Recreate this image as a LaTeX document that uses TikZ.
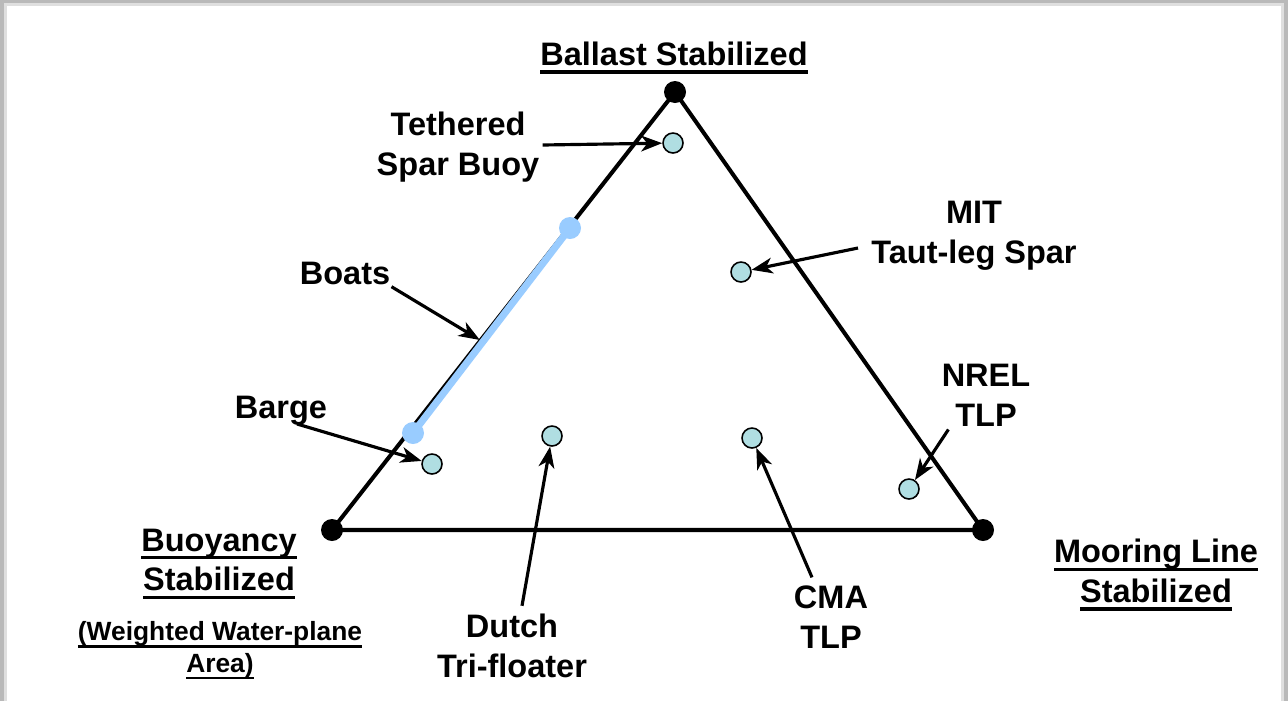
\documentclass[tikz,border=0pt]{standalone}
\usepackage{fontspec}
\setmainfont{Liberation Sans}
\usetikzlibrary{arrows.meta,calc}

\definecolor{samplefill}{RGB}{176,222,226}
\definecolor{boatblue}{RGB}{153,204,255}
\newcommand{\ulin}[1]{\setbox0\hbox{#1}\rlap{\smash{\rule[-0.25em]{\wd0}{0.1em}}}\box0}

\tikzset{
  edge/.style={line width=2.3pt},
  corner/.style={circle, fill=black, inner sep=0pt, minimum size=0.44cm},
  sample/.style={circle, draw=black, line width=0.9pt, fill=samplefill, inner sep=0pt, minimum size=0.4cm},
  boatend/.style={circle, fill=boatblue, inner sep=0pt, minimum size=0.44cm},
  lbl/.style={font=\fontsize{18.5}{22.7}\selectfont\bfseries, align=center, inner sep=0pt},
  smalllbl/.style={font=\fontsize{15}{18.1}\selectfont\bfseries, align=center, inner sep=0pt},
  pointer/.style={-{Stealth[length=12pt,width=9pt,inset=3.5pt]}, line width=1.8pt},
}

\begin{document}
\begin{tikzpicture}[x=0.02cm, y=-0.02cm]
\useasboundingbox (0,0) rectangle (1288,701);
% frame
\fill[gray!55] (0,0) rectangle (1288,701);
\fill[gray!25] (4,3) rectangle (1284,701);
\fill[white] (7,6) rectangle (1281,701);

\coordinate (top) at (675,92);
\coordinate (bl) at (332,530);
\coordinate (br) at (983,530);
\coordinate (boat1) at (413,433);
\coordinate (boat2) at (570,228);
\coordinate (boatpt) at ($(boat1)!0.445!(boat2)$);

\draw[edge] (bl) -- (top) -- (br) -- cycle;
\draw[boatblue, line width=4pt] (boat1) -- (boat2); % boats
\node[boatend] (boatdot1) at (boat1) {};
\node[boatend] (boatdot2) at (boat2) {};
\node[corner] (topdot) at (top) {};
\node[corner] (bldot) at (bl) {};
\node[corner] (brdot) at (br) {};

\node[sample] (tsbdot) at (673,143) {};
\node[sample] (mitdot) at (741,272) {};
\node[sample] (bargedot) at (432,464) {};
\node[sample] (dutchdot) at (552,436) {};
\node[sample] (cmadot) at (752,438) {};
\node[sample] (nreldot) at (909,489) {};

\node[lbl] (ballast) at (674,54) {\ulin{Ballast Stabilized}};
\node[lbl] (buoy) at (219,560) {\ulin{Buoyancy}\\ \ulin{Stabilized}};
\node[smalllbl] (weighted) at (220,650) {\ulin{(Weighted Water-plane}\\ \ulin{Area)}};
\node[lbl] (mooring) at (1156,571) {\ulin{Mooring Line}\\ \ulin{Stabilized}};

\node[lbl] (tsb) at (458,147) {Tethered\\Spar Buoy};
\node[lbl] (mit) at (974,236) {MIT\\Taut-leg Spar};
\node[lbl] (boats) at (345,273) {Boats};
\node[lbl] (barge) at (281,411) {Barge};
\node[lbl] (nrel) at (986,395) {NREL\\TLP};
\node[lbl] (dutch) at (512,646) {Dutch\\Tri-floater};
\node[lbl] (cma) at (831,617) {CMA\\TLP};

\draw[pointer] ([shift={(3,-2)}]tsb.east) -- (tsbdot);
\draw[pointer] ([shift={(-13,12)}]mit.west) -- (mitdot);
\draw[pointer, shorten >=2pt] ([shift={(1,2)}]boats.south east) -- (boatpt);
\draw[pointer] ([shift={(16,-2)}]barge.south) -- (bargedot);
\draw[pointer] ([shift={(10,-8)}]dutch.north) -- (dutchdot);
\draw[pointer] ([shift={(-19,-8)}]cma.north) -- (cmadot);
\draw[pointer] ([shift={(7,3)}]nrel.south west) -- (nreldot);

\end{tikzpicture}
\end{document}
